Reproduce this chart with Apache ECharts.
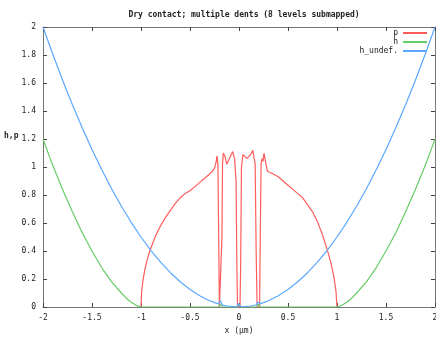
<!DOCTYPE html>
<html>
<head>
<meta charset="utf-8">
<script src="https://cdn.jsdelivr.net/npm/echarts@6/dist/echarts.min.js"></script>
<style>html,body{margin:0;padding:0;background:#fff}#c{width:436px;height:339px}</style>
</head>
<body>
<div id="c"></div>
<script>
const titleText = 'Dry contact; multiple dents (8 levels submapped)';
const xName = 'x (\u03bcm)';
const yName = 'h,p';
const seriesNames = ['p', 'h', 'h_undef.'];

const pX = [-1,-0.995,-0.99,-0.98,-0.96,-0.94,-0.92,-0.9,-0.85,-0.8,-0.75,-0.7,-0.65,-0.6,-0.55,-0.5,-0.45,-0.4,-0.35,-0.3,-0.27,-0.25,-0.235,-0.225,-0.215,-0.207,-0.2,-0.18,-0.174,-0.168,-0.16,-0.145,-0.125,-0.105,-0.085,-0.065,-0.045,-0.03,-0.022,-0.015,0.01,0.017,0.025,0.04,0.06,0.08,0.1,0.12,0.14,0.155,0.165,0.175,0.185,0.21,0.217,0.225,0.235,0.245,0.255,0.265,0.275,0.29,0.35,0.4,0.45,0.5,0.55,0.6,0.65,0.7,0.75,0.8,0.85,0.9,0.94,0.97,0.99,1];
const pY = [0,0.09,0.13,0.19,0.27,0.33,0.38,0.42,0.51,0.58,0.64,0.69,0.74,0.78,0.81,0.83,0.86,0.89,0.92,0.95,0.97,0.99,1.03,1.08,1.02,0.5,0,0,0.5,1.02,1.10,1.08,1.02,1.03,1.08,1.11,1.06,0.9,0.3,0,0,0.3,1.0,1.09,1.08,1.06,1.06,1.09,1.12,1.13,1.02,0.4,0,0,0.5,1.02,1.06,1.04,1.10,1.11,1.02,0.97,0.95,0.93,0.90,0.87,0.84,0.81,0.78,0.73,0.68,0.61,0.52,0.41,0.31,0.21,0.11,0];

const hX = [-2,-1.9,-1.8,-1.7,-1.6,-1.5,-1.4,-1.3,-1.2,-1.15,-1.1,-1.05,-1,-0.21,-0.2,-0.19,-0.18,-0.17,-0.02,-0.01,0,0.01,0.02,0.18,0.19,0.2,0.21,0.22,1,1.05,1.1,1.15,1.2,1.3,1.4,1.5,1.6,1.7,1.8,1.9,2];
const hY = [1.2,1.01,0.84,0.68,0.53,0.40,0.28,0.18,0.10,0.063,0.034,0.012,0,0,0.012,0.018,0.012,0,0,0.012,0.018,0.012,0,0,0.012,0.018,0.012,0,0,0.012,0.034,0.063,0.10,0.18,0.28,0.40,0.53,0.68,0.84,1.01,1.2];

const huX = [-2,-1.9,-1.8,-1.7,-1.6,-1.5,-1.4,-1.3,-1.2,-1.1,-1,-0.9,-0.8,-0.7,-0.6,-0.5,-0.4,-0.3,-0.25,-0.21,-0.2,-0.19,-0.18,-0.17,-0.12,-0.06,-0.02,-0.01,0,0.01,0.02,0.06,0.12,0.18,0.19,0.2,0.21,0.22,0.25,0.3,0.4,0.5,0.6,0.7,0.8,0.9,1,1.1,1.2,1.3,1.4,1.5,1.6,1.7,1.8,1.9,2];
const huY = [2,1.805,1.62,1.445,1.28,1.125,0.98,0.845,0.72,0.605,0.5,0.405,0.32,0.245,0.18,0.125,0.08,0.045,0.031,0.022,0.036,0.045,0.035,0.014,0.007,0.002,0.001,0.025,0.035,0.025,0.001,0.002,0.007,0.016,0.036,0.046,0.037,0.024,0.031,0.045,0.08,0.125,0.18,0.245,0.32,0.405,0.5,0.605,0.72,0.845,0.98,1.125,1.28,1.445,1.62,1.805,2];

const colors = ['#ff5c5c', '#66cc66', '#5aa8ff'];
const FONT = 'DejaVu Sans Mono';
const zip = (xs, ys) => xs.map((x, i) => [x, ys[i]]);

const chart = echarts.init(document.getElementById('c'), null, {renderer: 'canvas'});
const axisCommon = () => ({
  axisLine: {show: true, onZero: false, lineStyle: {color: '#777', width: 1}},
  axisTick: {show: true, inside: true, length: 4, lineStyle: {color: '#444'}},
  splitLine: {show: false}
});
const lbl = {fontFamily: FONT, fontSize: 8, color: '#222'};
chart.setOption({
  animation: false,
  backgroundColor: '#fff',
  title: {text: titleText, left: 239, top: 6, textAlign: 'center',
    textStyle: {fontFamily: FONT, fontSize: 8, fontWeight: 'bold', color: '#222'}},
  grid: {left: 43, right: 1, top: 27, bottom: 32, containLabel: false, outerBoundsMode: 'none'},
  legend: seriesNames.map((n, i) => ({
    data: [n], right: 9, top: 29 + i * 9, align: 'right', orient: 'vertical',
    icon: 'rect', itemWidth: 24, itemHeight: 2, padding: 0, selectedMode: false,
    textStyle: {fontFamily: FONT, fontSize: 8, color: '#222', padding: [0, 0, 0, 0]}
  })),
  xAxis: [
    Object.assign({type: 'value', min: -2, max: 2, interval: 0.5, position: 'bottom',
      name: xName, nameLocation: 'middle', nameGap: 20,
      nameTextStyle: {fontFamily: FONT, fontSize: 8, color: '#222'},
      axisLabel: Object.assign({margin: 7}, lbl)}, axisCommon()),
    Object.assign({type: 'value', min: -2, max: 2, interval: 0.5, position: 'top',
      axisLabel: {show: false}}, axisCommon())
  ],
  yAxis: [
    Object.assign({type: 'value', min: 0, max: 2, interval: 0.2, position: 'left',
      axisLabel: Object.assign({margin: 7, formatter: v => String(Math.round(v * 10) / 10)}, lbl)}, axisCommon()),
    Object.assign({type: 'value', min: 0, max: 2, interval: 0.2, position: 'right',
      axisLabel: {show: false}}, axisCommon())
  ],
  graphic: [{type: 'text', left: 4, top: 132, style: {text: yName, font: 'bold 8px "DejaVu Sans Mono"', fill: '#222'}}],
  series: [
    {name: seriesNames[0], type: 'line', data: zip(pX, pY), showSymbol: false, color: colors[0], lineStyle: {width: 1.2, color: colors[0]}},
    {name: seriesNames[1], type: 'line', data: zip(hX, hY), showSymbol: false, color: colors[1], lineStyle: {width: 1.2, color: colors[1]}},
    {name: seriesNames[2], type: 'line', data: zip(huX, huY), showSymbol: false, color: colors[2], lineStyle: {width: 1.2, color: colors[2]}}
  ]
});
</script>
</body>
</html>
